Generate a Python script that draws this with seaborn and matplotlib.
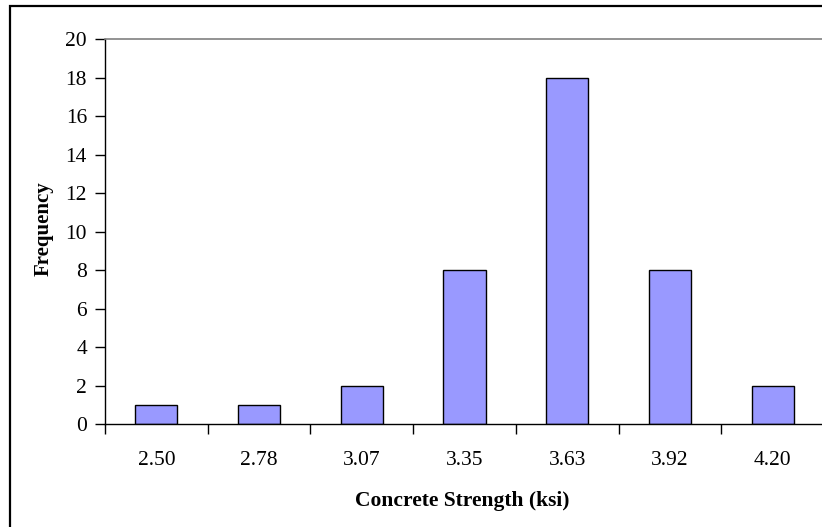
import matplotlib
matplotlib.use("Agg")
import matplotlib.pyplot as plt
import seaborn as sns
import pandas as pd
from matplotlib.patches import Rectangle
from matplotlib.ticker import FixedLocator

categories = ["2.50", "2.78", "3.07", "3.35", "3.63", "3.92", "4.20"]
frequency = [1, 1, 2, 8, 18, 8, 2]

sns.set_theme(style="white")
plt.rcParams['font.family'] = ['Liberation Serif', 'DejaVu Serif']

df = pd.DataFrame({"strength": categories, "freq": frequency})

fig = plt.figure(figsize=(8.22, 5.27), dpi=100)
ax = fig.add_axes([105/822, 1-424.3/527, 719/822, (424.3-39.3)/527])

sns.barplot(data=df, x="strength", y="freq", ax=ax, color="#9999FF",
            saturation=1, width=0.41, edgecolor="black", linewidth=1.0)

ax.set_xlim(-0.5, 6.5)
ax.set_ylim(0, 20)
ax.set_yticks(range(0, 21, 2))
ax.tick_params(axis="y", which="major", direction="out", length=7, width=1,
               color="black", pad=6, labelsize=15.5, left=True)
ax.tick_params(axis="x", which="major", length=0, pad=19, labelsize=15.5)
ax.xaxis.set_minor_locator(FixedLocator([i - 0.5 for i in range(8)]))
ax.tick_params(axis="x", which="minor", direction="out", length=7, width=1,
               color="black", bottom=True)
for lab in ax.get_yticklabels() + ax.get_xticklabels():
    lab.set_color("black")

for s in ["left", "bottom"]:
    ax.spines[s].set_visible(True)
    ax.spines[s].set_color("black")
    ax.spines[s].set_linewidth(1.0)
ax.spines["right"].set_visible(False)
ax.spines["top"].set_visible(True)
ax.spines["top"].set_color("#808080")
ax.spines["top"].set_linewidth(1.2)

ax.set_xlabel("Concrete Strength (ksi)", fontsize=15.5, fontweight="bold", color="black")
ax.set_ylabel("Frequency", fontsize=15, fontweight="bold", color="black")
ax.xaxis.set_label_coords((462-105)/719, -(501-424.3)/385)
ax.yaxis.set_label_coords(-(105-44)/719, (424.3-229)/385)
ax.xaxis.label.set_va("center")
ax.yaxis.label.set_va("center")

fig.patches.append(Rectangle((9.5/822, -0.2), 1.0, 1.2 - 6/527,
                             transform=fig.transFigure, fill=False,
                             edgecolor="black", linewidth=1.6, zorder=10))

fig.savefig("out.png", dpi=100)
